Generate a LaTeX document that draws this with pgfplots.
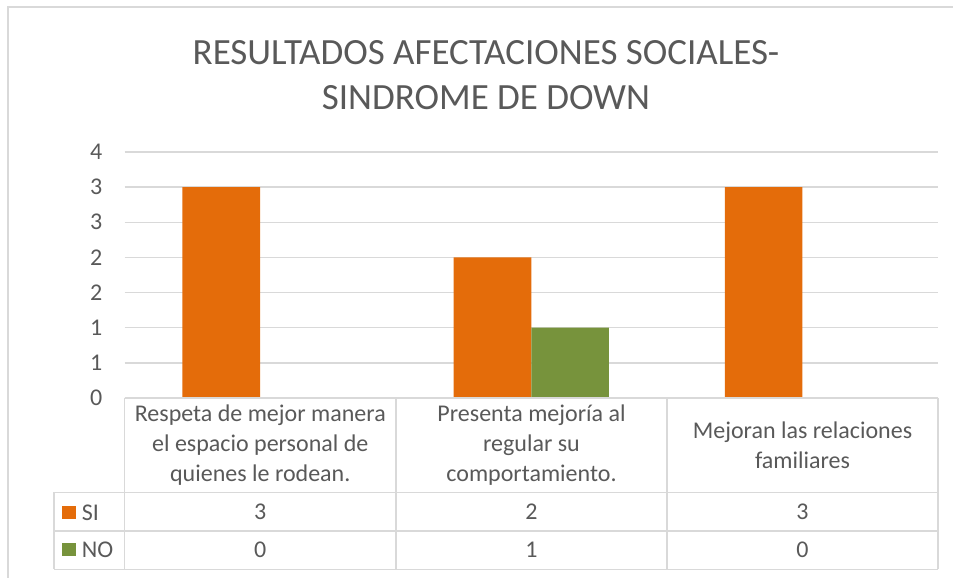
\documentclass[border=0pt]{standalone}
\usepackage{pgfplots}
\pgfplotsset{compat=1.18}
\usepackage{fontspec}
\setmainfont{Carlito}
\definecolor{txt}{HTML}{595959}
\definecolor{gridc}{HTML}{D9D9D9}
\definecolor{si}{HTML}{E46C0A}
\definecolor{no}{HTML}{77933C}
\begin{document}
\begin{tikzpicture}[x=1pt,y=1pt]
\useasboundingbox (0,0) rectangle (953,578);
\draw[gridc, line width=1.5pt] (8,0) -- (8,571) -- (953,571);
\begin{axis}[
  at={(124.5pt,180pt)}, anchor=south west,
  scale only axis, width=813.5pt, height=246pt,
  xmin=-0.5, xmax=2.5, ymin=0, ymax=3.5,
  axis line style={draw=none},
  xtick=\empty,
  ytick={0,0.5,1,1.5,2,2.5,3,3.5},
  yticklabels={0,1,1,2,2,3,3,4},
  ymajorgrids, grid style={gridc, line width=1.3pt},
  major tick length=0pt,
  /pgf/number format/assume math mode=true,
  yticklabel style={font=\fontsize{24}{28}\selectfont, text=txt, inner sep=0pt, xshift=-22pt},
  clip=false,
  ybar, bar width=77.6pt,
]
\addplot[fill=si, draw=none, bar shift=-38.8pt] coordinates {(0,3) (1,2) (2,3)};
\addplot[fill=no, draw=none, bar shift=38.8pt] coordinates {(0,0) (1,1) (2,0)};
\end{axis}
% title
\node[anchor=base, text=txt, font=\fontsize{37}{44}\selectfont] at (486,513.7) {RESULTADOS AFECTACIONES SOCIALES-};
\node[anchor=base, text=txt, font=\fontsize{37}{44}\selectfont] at (486,468) {SINDROME DE DOWN};
% data table
\begin{scope}[gridc, line width=1.3pt]
\draw (124.5,180) -- (938,180);
\draw (54,85.5) -- (938,85.5);
\draw (54,47) -- (938,47);
\draw (54,8.5) -- (938,8.5);
\draw (124.5,180) -- (124.5,8.5);
\draw (396,180) -- (396,8.5);
\draw (667,180) -- (667,8.5);
\draw (938,180) -- (938,8.5);
\draw (54,85.5) -- (54,8.5);
\end{scope}
\begin{scope}[every node/.style={text=txt, font=\fontsize{24}{30}\selectfont, align=center}]
\node at (260.25,132.75) {Respeta de mejor manera\\el espacio personal de\\quienes le rodean.};
\node at (531.5,132.75) {Presenta mejoría al\\regular su\\comportamiento.};
\node at (802.5,132.75) {Mejoran las relaciones\\familiares};
\node at (260.25,66.25) {3};
\node at (531.5,66.25) {2};
\node at (802.5,66.25) {3};
\node at (260.25,27.75) {0};
\node at (531.5,27.75) {1};
\node at (802.5,27.75) {0};
\node[anchor=west, inner sep=0pt] at (81.7,65.5) {SI};
\node[anchor=west, inner sep=0pt] at (81.7,28.6) {NO};
\end{scope}
\fill[si] (61.7,59) rectangle (75.7,72);
\fill[no] (61.7,22) rectangle (75.7,35.3);
\end{tikzpicture}
\end{document}
